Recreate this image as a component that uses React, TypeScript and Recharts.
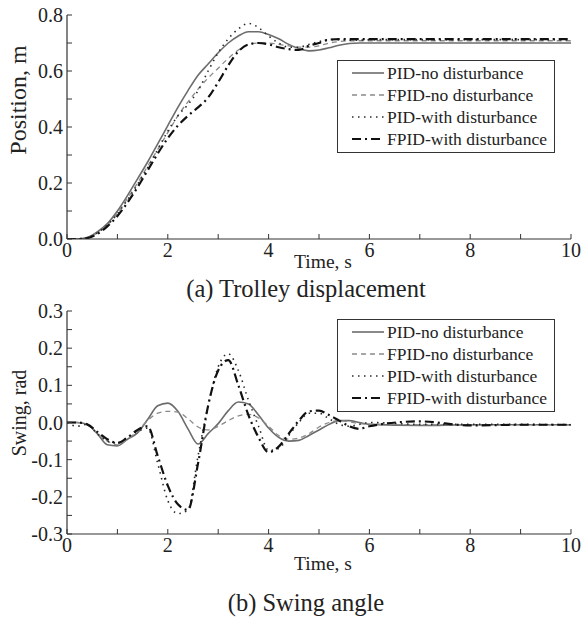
import React from 'react';
import { LineChart, Line, XAxis, YAxis, Legend, Label } from 'recharts';

const FONT = '"Liberation Serif", "Times New Roman", serif';

// time samples (s)
const TIME = [0, 0.2, 0.4, 0.6, 0.8, 1, 1.2, 1.4, 1.6, 1.8, 2, 2.2, 2.4, 2.6, 2.8, 3, 3.2, 3.4, 3.6, 3.8, 4, 4.2, 4.4, 4.6, 4.8, 5, 5.2, 5.4, 5.6, 5.8, 6, 7, 8, 9, 10];

// (a) Trolley displacement, m
const POS_PID_NO = [0, 0, 0.005, 0.025, 0.055, 0.1, 0.155, 0.215, 0.275, 0.34, 0.405, 0.47, 0.53, 0.585, 0.625, 0.665, 0.7, 0.725, 0.74, 0.74, 0.73, 0.715, 0.695, 0.68, 0.672, 0.675, 0.683, 0.692, 0.698, 0.7, 0.7, 0.7, 0.7, 0.7, 0.7];
const POS_FPID_NO = [0, 0, 0.005, 0.022, 0.05, 0.092, 0.145, 0.2, 0.26, 0.32, 0.38, 0.44, 0.49, 0.535, 0.575, 0.61, 0.645, 0.675, 0.695, 0.7, 0.7, 0.695, 0.69, 0.685, 0.685, 0.69, 0.7, 0.705, 0.708, 0.708, 0.708, 0.708, 0.708, 0.708, 0.708];
const POS_PID_W = [0, 0, 0.005, 0.022, 0.05, 0.09, 0.14, 0.195, 0.255, 0.32, 0.385, 0.44, 0.48, 0.53, 0.6, 0.665, 0.715, 0.75, 0.77, 0.755, 0.725, 0.7, 0.685, 0.685, 0.695, 0.705, 0.712, 0.712, 0.71, 0.71, 0.712, 0.712, 0.712, 0.712, 0.712];
const POS_FPID_W = [0, 0, 0.003, 0.018, 0.045, 0.082, 0.13, 0.185, 0.245, 0.305, 0.36, 0.405, 0.44, 0.47, 0.505, 0.56, 0.62, 0.67, 0.695, 0.7, 0.695, 0.685, 0.678, 0.675, 0.69, 0.7, 0.712, 0.714, 0.714, 0.714, 0.714, 0.714, 0.714, 0.714, 0.714];

// (b) Swing angle, rad
const SW_PID_NO = [0, 0, -0.005, -0.03, -0.06, -0.063, -0.045, -0.028, 0.008, 0.045, 0.052, 0.03, -0.017, -0.058, -0.03, -0.003, 0.032, 0.055, 0.05, 0.02, -0.015, -0.04, -0.05, -0.048, -0.035, -0.02, -0.005, 0.005, 0.005, 0, -0.005, -0.008, -0.006, -0.006, -0.006];
const SW_FPID_NO = [0, 0, -0.005, -0.03, -0.05, -0.06, -0.045, -0.022, 0.005, 0.025, 0.03, 0.028, 0.01, -0.012, -0.02, -0.01, 0.005, 0.018, 0.022, 0.012, -0.01, -0.035, -0.045, -0.042, -0.03, -0.012, 0, 0.005, 0.002, -0.003, -0.005, -0.006, -0.006, -0.006, -0.006];
const SW_PID_W = [0, -0.01, -0.005, -0.03, -0.05, -0.055, -0.04, -0.025, -0.015, -0.11, -0.21, -0.245, -0.235, -0.09, 0.045, 0.15, 0.185, 0.14, 0.06, -0.01, -0.075, -0.07, -0.035, 0, 0.025, 0.025, 0.01, -0.005, -0.01, -0.005, 0, -0.005, -0.005, -0.005, -0.006];
const SW_FPID_W = [0, 0, -0.005, -0.025, -0.045, -0.055, -0.04, -0.02, -0.01, -0.09, -0.17, -0.22, -0.235, -0.11, 0.045, 0.14, 0.168, 0.1, 0.02, -0.04, -0.08, -0.065, -0.03, 0.005, 0.03, 0.032, 0.02, 0.005, -0.01, -0.017, -0.01, 0.003, -0.008, -0.006, -0.006];

// ticks
const X_TICKS = [0, 1, 2, 3, 4, 5, 6, 7, 8, 9, 10];
const X_LABELS = [0, 2, 4, 6, 8, 10];
const POS_TICKS = [0, 0.1, 0.2, 0.3, 0.4, 0.5, 0.6, 0.7, 0.8];
const POS_LABELS = [0, 0.2, 0.4, 0.6, 0.8];
const SW_TICKS = [-0.3, -0.25, -0.2, -0.15, -0.1, -0.05, 0, 0.05, 0.1, 0.15, 0.2, 0.25, 0.3];
const SW_LABELS = [-0.3, -0.2, -0.1, 0, 0.1, 0.2, 0.3];

const SERIES = [
  { key: 'pidNo', name: 'PID-no disturbance', color: '#6c6c6c', dash: undefined as string | undefined, width: 1.6 },
  { key: 'fpidNo', name: 'FPID-no disturbance', color: '#8a8a8a', dash: '5 4', width: 1.3 },
  { key: 'pidW', name: 'PID-with disturbance', color: '#2a2a2a', dash: '1.5 4.5', width: 1.6 },
  { key: 'fpidW', name: 'FPID-with disturbance', color: '#111111', dash: '9 4 2 4', width: 2.2 },
];

const topData = TIME.map((t, i) => ({ t, pidNo: POS_PID_NO[i], fpidNo: POS_FPID_NO[i], pidW: POS_PID_W[i], fpidW: POS_FPID_W[i] }));
const botData = TIME.map((t, i) => ({ t, pidNo: SW_PID_NO[i], fpidNo: SW_FPID_NO[i], pidW: SW_PID_W[i], fpidW: SW_FPID_W[i] }));

const AXIS = '#333';
const TL = 5;
const isIn = (arr: number[] | null, v: number) => !!arr && arr.some((a) => Math.abs(a - v) < 1e-9);

function makeTick(side: 'bottom' | 'top' | 'left' | 'right', labels: number[] | null, fmt: (v: number) => string, fs: number) {
  return (props: any) => {
    const { x, y, payload } = props;
    const v = payload.value;
    let line;
    if (side === 'bottom') line = <line x1={x} x2={x} y1={y} y2={y - TL} stroke={AXIS} strokeWidth={1} />;
    else if (side === 'top') line = <line x1={x} x2={x} y1={y} y2={y + TL} stroke={AXIS} strokeWidth={1} />;
    else if (side === 'left') line = <line x1={x} x2={x + TL} y1={y} y2={y} stroke={AXIS} strokeWidth={1} />;
    else line = <line x1={x} x2={x - TL} y1={y} y2={y} stroke={AXIS} strokeWidth={1} />;
    let text = null;
    if (isIn(labels, v)) {
      if (side === 'bottom')
        text = <text x={x} y={y + 18} textAnchor="middle" fontFamily={FONT} fontSize={fs} fill="#222">{fmt(v)}</text>;
      else if (side === 'left')
        text = <text x={x - 4} y={y + 7} textAnchor="end" fontFamily={FONT} fontSize={fs} fill="#222">{fmt(v)}</text>;
    }
    return <g>{line}{text}</g>;
  };
}

const fmtX = (v: number) => String(v);
const fmt1 = (v: number) => v.toFixed(1);

function LegendBox() {
  return (
    <div style={{ width: 218, height: 93, boxSizing: 'border-box', border: '1px solid #333', background: '#fff', paddingTop: 1, fontFamily: FONT, fontSize: 17.5, color: '#222' }}>
      {SERIES.map((s) => (
        <div key={s.key} style={{ height: 22, display: 'flex', alignItems: 'center', whiteSpace: 'nowrap' }}>
          <svg width={49} height={22} style={{ display: 'block', flex: 'none' }}>
            <line x1={14} x2={46} y1={11} y2={11} stroke={s.color} strokeWidth={s.width} strokeDasharray={s.dash} />
          </svg>
          <span style={{ lineHeight: '22px' }}>{s.name}</span>
        </div>
      ))}
    </div>
  );
}

function Panel(props: {
  data: any[]; height: number; top: number; marginTop: number; xAxisH: number; yTicks: number[]; yLabels: number[]; yDomain: [number, number];
  yTitle: string; yTitleSize: number; yTitleCenter: number; timeY: number; title: string; titleY: number; legendTop: number;
}) {
  const p = props;
  return (
    <div style={{ position: 'absolute', left: 0, top: p.top, width: 583, height: p.height }}>
      <LineChart width={583} height={p.height} data={p.data} margin={{ top: p.marginTop, right: 12, left: 0, bottom: 0 }}>
        <XAxis xAxisId="b" dataKey="t" type="number" domain={[0, 10]} ticks={X_TICKS} interval={0} height={p.xAxisH}
          tickSize={0} tickMargin={0} tickLine={false} axisLine={{ stroke: AXIS, strokeWidth: 1.2 }}
          tick={makeTick('bottom', X_LABELS, fmtX, 20)} allowDataOverflow>
          <Label content={() => (
            <g>
              <text x={323} y={p.timeY} textAnchor="middle" fontFamily={FONT} fontSize={19.5} fill="#222">Time, s</text>
              <text x={306} y={p.titleY} textAnchor="middle" fontFamily={FONT} fontSize={24.5} fill="#222">{p.title}</text>
            </g>
          )} />
        </XAxis>
        <XAxis xAxisId="t" orientation="top" dataKey="t" type="number" domain={[0, 10]} ticks={X_TICKS} interval={0} height={0}
          tickSize={0} tickMargin={0} tickLine={false} axisLine={{ stroke: AXIS, strokeWidth: 1.2 }}
          tick={makeTick('top', null, fmtX, 20)} allowDataOverflow />
        <YAxis yAxisId="l" type="number" domain={p.yDomain} ticks={p.yTicks} interval={0} width={67}
          tickSize={0} tickMargin={0} tickLine={false} axisLine={{ stroke: AXIS, strokeWidth: 1.2 }}
          tick={makeTick('left', p.yLabels, fmt1, 20)} allowDataOverflow>
          <Label content={() => (
            <text x={26} y={p.yTitleCenter} transform={`rotate(-90, 26, ${p.yTitleCenter})`} textAnchor="middle" fontFamily={FONT} fontSize={p.yTitleSize} fill="#222">{p.yTitle}</text>
          )} />
        </YAxis>
        <YAxis yAxisId="r" orientation="right" type="number" domain={p.yDomain} ticks={p.yTicks} interval={0} width={0}
          tickSize={0} tickMargin={0} tickLine={false} axisLine={{ stroke: AXIS, strokeWidth: 1.2 }}
          tick={makeTick('right', null, fmt1, 20)} allowDataOverflow />
        {SERIES.map((s) => (
          <Line key={s.key} xAxisId="b" yAxisId="l" type="monotone" dataKey={s.key} name={s.name} stroke={s.color}
            strokeWidth={s.width} strokeDasharray={s.dash} dot={false} activeDot={false} isAnimationActive={false} />
        ))}
        <Legend layout="vertical" align="center" verticalAlign="middle"
          wrapperStyle={{ left: 337, top: p.legendTop, width: 218, height: 93 }}
          content={() => <LegendBox />} />
      </LineChart>
    </div>
  );
}

export default function App() {
  return (
    <div style={{ position: 'absolute', left: 0, top: 0, width: 583, height: 619, background: '#fff' }}>
      <Panel data={topData} height={310} top={0} marginTop={15} xAxisH={71} yTicks={POS_TICKS} yLabels={POS_LABELS} yDomain={[0, 0.8]}
        yTitle="Position, m" yTitleSize={24} yTitleCenter={100} timeY={268} title="(a) Trolley displacement" titleY={297} legendTop={60} />
      <Panel data={botData} height={319} top={300} marginTop={11} xAxisH={85} yTicks={SW_TICKS} yLabels={SW_LABELS} yDomain={[-0.3, 0.3]}
        yTitle="Swing, rad" yTitleSize={20} yTitleCenter={113} timeY={270} title="(b) Swing angle" titleY={311} legendTop={19} />
    </div>
  );
}
